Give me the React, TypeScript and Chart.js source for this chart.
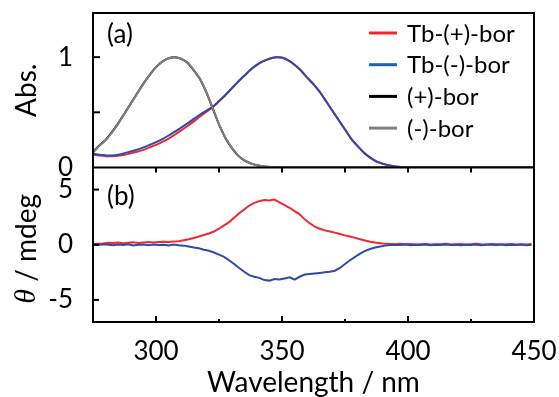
import React, { useEffect, useRef } from "react";
import { Chart, registerables } from "chart.js";

Chart.register(...registerables);

const FONT = "Lato, 'Open Sans', 'DejaVu Sans', sans-serif";

// ---- Data ----
const absStart = 275;
const absStep = 2.5;
const absTbPlus = [
  0.115, 0.108, 0.103, 0.102, 0.106, 0.115, 0.128, 0.142, 0.160, 0.182,
  0.205, 0.232, 0.262, 0.298, 0.336, 0.376, 0.418, 0.462, 0.505, 0.545,
  0.600, 0.655, 0.715, 0.775, 0.830, 0.885, 0.930, 0.962, 0.985, 0.998,
  0.995, 0.970, 0.930, 0.880, 0.815, 0.755, 0.685, 0.600, 0.515, 0.430,
  0.345, 0.260, 0.195, 0.135, 0.090, 0.055, 0.035, 0.020, 0.010, 0.005,
  0.003, 0.002, 0.001, 0, 0, 0, 0, 0, 0, 0,
  0, 0, 0, 0, 0, 0, 0, 0, 0, 0,
  0,
];
const absTbMinus = [
  0.125, 0.115, 0.110, 0.108, 0.115, 0.130, 0.145, 0.162, 0.182, 0.205,
  0.230, 0.258, 0.290, 0.325, 0.362, 0.400, 0.440, 0.480, 0.515, 0.550,
  0.602, 0.657, 0.716, 0.776, 0.831, 0.885, 0.930, 0.963, 0.986, 0.999,
  0.996, 0.971, 0.931, 0.879, 0.815, 0.754, 0.684, 0.600, 0.514, 0.429,
  0.344, 0.260, 0.194, 0.134, 0.089, 0.054, 0.034, 0.018, 0.008, 0.004,
  0.002, 0.001, 0, 0, 0, 0, 0, 0, 0, 0,
  0, 0, 0, 0, 0, 0, 0, 0, 0, 0,
  0,
];
const absBorPlus = [
  0.140, 0.200, 0.250, 0.320, 0.400, 0.490, 0.580, 0.670, 0.760, 0.840,
  0.910, 0.960, 0.990, 1.000, 0.985, 0.950, 0.880, 0.800, 0.680, 0.535,
  0.390, 0.270, 0.180, 0.110, 0.065, 0.038, 0.020, 0.010, 0.005, 0.002,
  0.001, 0, 0, 0, 0, 0, 0, 0, 0, 0,
  0, 0, 0, 0, 0, 0, 0, 0, 0, 0,
  0, 0, 0, 0, 0, 0, 0, 0, 0, 0,
  0, 0, 0, 0, 0, 0, 0, 0, 0, 0,
  0,
];
const absBorMinus = [
  0.135, 0.195, 0.247, 0.317, 0.397, 0.487, 0.578, 0.668, 0.758, 0.839,
  0.909, 0.959, 0.990, 1.000, 0.986, 0.951, 0.882, 0.802, 0.683, 0.538,
  0.393, 0.273, 0.182, 0.112, 0.066, 0.039, 0.021, 0.011, 0.006, 0.003,
  0.001, 0, 0, 0, 0, 0, 0, 0, 0, 0,
  0, 0, 0, 0, 0, 0, 0, 0, 0, 0,
  0, 0, 0, 0, 0, 0, 0, 0, 0, 0,
  0, 0, 0, 0, 0, 0, 0, 0, 0, 0,
  0,
];

const cdStart = 275;
const cdStep = 2;
const cdTbPlus = [
  0.05, 0.10, 0.12, 0.18, 0.15, 0.20, 0.14, 0.18, 0.22, 0.17,
  0.20, 0.24, 0.21, 0.25, 0.28, 0.26, 0.30, 0.32, 0.40, 0.50,
  0.62, 0.75, 0.88, 1.02, 1.20, 1.45, 1.75, 2.05, 2.45, 2.85,
  3.20, 3.55, 3.80, 3.95, 4.05, 4.02, 4.10, 3.85, 3.60, 3.35,
  3.05, 2.75, 2.30, 1.95, 1.65, 1.45, 1.30, 1.20, 1.10, 0.98,
  0.85, 0.75, 0.62, 0.50, 0.38, 0.28, 0.20, 0.14, 0.08, 0.06,
  0.05, 0.08, 0.04, 0.06, 0.03, 0.05, 0.07, 0.02, 0.05, 0.04,
  0.08, 0.03, 0.05, 0.06, 0.02, 0.05, 0.08, 0.04, 0.03, 0.06,
  0.05, 0.02, 0.04, 0.07, 0.03, 0.05, 0.02, 0.08,
];
const cdTbMinus = [
  0.02, -0.03, 0.05, 0.00, -0.05, 0.03, -0.02, 0.04, -0.06, 0.00,
  0.03, -0.04, 0.02, -0.03, 0.01, -0.06, 0.02, -0.05, -0.08, -0.15,
  -0.25, -0.32, -0.45, -0.55, -0.70, -0.90, -1.10, -1.40, -1.75, -2.10,
  -2.45, -2.75, -2.90, -3.00, -3.20, -3.25, -3.10, -3.15, -3.05, -2.95,
  -3.15, -2.90, -2.70, -2.65, -2.60, -2.55, -2.50, -2.45, -2.35, -2.10,
  -1.75, -1.40, -1.10, -0.80, -0.55, -0.38, -0.25, -0.15, -0.08, -0.02,
  0.00, -0.03, 0.02, -0.05, 0.01, -0.02, 0.03, -0.04, 0.00, -0.02,
  0.02, -0.03, 0.00, -0.05, 0.01, -0.02, 0.03, -0.04, 0.00, 0.01,
  -0.03, 0.02, -0.04, 0.00, -0.02, 0.03, -0.05, 0.01,
];

const seriesLabels = ["Tb-(+)-bor", "Tb-(-)-bor", "(+)-bor", "(-)-bor"];
const seriesColors = ["#ee2a2f", "#2f4aae", "#000000", "#808080"];
const legendColors = ["#ee2a2f", "#1b63b8", "#000000", "#808080"];
const xTickLabels = [300, 350, 400, 450];
const absTickLabels = [0, 1];
const cdTickLabels = [-5, 0, 5];
const panelLabels = ["(a)", "(b)"];
const xTitle = "Wavelength / nm";

const toPoints = (vals: number[], start: number, step: number) =>
  vals.map((v, i) => ({ x: start + i * step, y: v }));

const decorPlugin = {
  id: "decor",
  afterDatasetsDraw(chart: any) {
    const { ctx, chartArea, scales } = chart;
    const xs = scales.x;
    const yT = scales.yTop;
    const yB = scales.yBot;
    ctx.save();
    ctx.strokeStyle = "#000";
    ctx.lineWidth = 2;
    ctx.strokeRect(chartArea.left, chartArea.top, chartArea.width, chartArea.height);
    ctx.beginPath();
    ctx.moveTo(chartArea.left, yT.bottom);
    ctx.lineTo(chartArea.right, yT.bottom);
    ctx.stroke();

    const seg = (x1: number, y1: number, x2: number, y2: number) => {
      ctx.beginPath();
      ctx.moveTo(x1, y1);
      ctx.lineTo(x2, y2);
      ctx.stroke();
    };
    for (const t of xs.ticks) {
      const v = t.value;
      if (v <= xs.min || v >= xs.max) continue;
      const px = xs.getPixelForValue(v);
      const major = v % 50 === 0;
      seg(px, yB.bottom, px, yB.bottom - (major ? 6 : 3));
      seg(px, yT.bottom, px, yT.bottom + 5);
    }
    for (const t of yT.ticks) {
      const v = t.value;
      if (v <= yT.min || v >= yT.max || Math.abs(v * 2 - Math.round(v * 2)) > 1e-6) continue;
      const py = yT.getPixelForValue(v);
      seg(chartArea.left, py, chartArea.left + 7, py);
    }
    for (const t of yB.ticks) {
      const v = t.value;
      if (!cdTickLabels.includes(v)) continue;
      const py = yB.getPixelForValue(v);
      seg(chartArea.left, py, chartArea.left + 6, py);
    }
    ctx.restore();
  },
  afterDraw(chart: any) {
    const { ctx, chartArea, scales } = chart;
    const yT = scales.yTop;
    const yB = scales.yBot;
    ctx.save();
    ctx.fillStyle = "#000";
    // panel labels
    ctx.font = `26px ${FONT}`;
    ctx.textAlign = "left";
    ctx.textBaseline = "middle";
    ctx.fillText(panelLabels[0], chartArea.left + 14, yT.top + 22);
    ctx.fillText(panelLabels[1], chartArea.left + 14, yB.top + 29);

    // legend
    const lx = chartArea.right - 165;
    let ly = chartArea.top + 20;
    for (let i = 0; i < seriesLabels.length; i++) {
      ctx.strokeStyle = legendColors[i];
      ctx.lineWidth = 3;
      ctx.beginPath();
      ctx.moveTo(lx, ly);
      ctx.lineTo(lx + 28, ly);
      ctx.stroke();
      ctx.fillStyle = "#000";
      ctx.font = `24px ${FONT}`;
      ctx.fillText(seriesLabels[i], lx + 38, ly + 1);
      ly += 31.7;
    }

    // y titles (rotated)
    const drawRot = (parts: { t: string; f: string }[], cx: number, cy: number) => {
      ctx.save();
      ctx.translate(cx, cy);
      ctx.rotate(-Math.PI / 2);
      ctx.textAlign = "left";
      ctx.textBaseline = "middle";
      let total = 0;
      const ws = parts.map((p) => {
        ctx.font = p.f;
        const w = ctx.measureText(p.t).width;
        total += w;
        return w;
      });
      let x = -total / 2;
      parts.forEach((p, i) => {
        ctx.font = p.f;
        ctx.fillText(p.t, x, 0);
        x += ws[i];
      });
      ctx.restore();
    };
    drawRot([{ t: "Abs.", f: `28px ${FONT}` }], 27, (yT.top + yT.bottom) / 2);
    drawRot(
      [
        { t: "θ", f: `italic 30px 'Liberation Serif', 'DejaVu Serif', serif` },
        { t: " / mdeg", f: `28px ${FONT}` },
      ],
      27,
      (yB.top + yB.bottom) / 2 + 4
    );
    ctx.restore();
  },
};

export default function App() {
  const ref = useRef<HTMLCanvasElement | null>(null);
  useEffect(() => {
    if (!ref.current) return;
    const lineDs = (label: string, color: string, data: any[], axis: string, order: number, tension: number) => ({
      label,
      data,
      borderColor: color,
      backgroundColor: color,
      borderWidth: 2,
      pointRadius: 0,
      fill: false,
      tension,
      yAxisID: axis,
      order,
    });
    const chart = new Chart(ref.current, {
      type: "line",
      data: {
        datasets: [
          lineDs(seriesLabels[0], seriesColors[0], toPoints(absTbPlus, absStart, absStep), "yTop", 4, 0.3),
          lineDs(seriesLabels[1], seriesColors[1], toPoints(absTbMinus, absStart, absStep), "yTop", 3, 0.3),
          lineDs(seriesLabels[2], seriesColors[2], toPoints(absBorPlus, absStart, absStep), "yTop", 2, 0.3),
          lineDs(seriesLabels[3], seriesColors[3], toPoints(absBorMinus, absStart, absStep), "yTop", 1, 0.3),
          lineDs(seriesLabels[0], seriesColors[0], toPoints(cdTbPlus, cdStart, cdStep), "yBot", 6, 0),
          lineDs(seriesLabels[1], seriesColors[1], toPoints(cdTbMinus, cdStart, cdStep), "yBot", 5, 0),
        ],
      },
      options: {
        responsive: false,
        animation: false,
        devicePixelRatio: 1,
        layout: { padding: { left: 0, right: 25, top: 13, bottom: 0 } },
        plugins: { legend: { display: false }, tooltip: { enabled: false } },
        scales: {
          x: {
            type: "linear",
            min: 275,
            max: 450,
            grid: { display: false, drawTicks: false },
            border: { display: false },
            ticks: {
              stepSize: 25,
              autoSkip: false,
              maxRotation: 0,
              padding: 14,
              color: "#000",
              font: { size: 26, family: FONT },
              callback: (v: any) => (xTickLabels.includes(Number(v)) ? String(v) : ""),
            },
            title: {
              display: true,
              text: xTitle,
              color: "#000",
              font: { size: 28, family: FONT },
              padding: { top: 0, bottom: -3 },
            },
            afterFit: (s: any) => {
              s.height = 75;
              s.paddingLeft = 0;
              s.paddingRight = 0;
            },
          },
          yBot: {
            type: "linear",
            position: "left",
            stack: "panels",
            stackWeight: 1,
            min: -7,
            max: 7,
            grid: { display: false, drawTicks: false },
            border: { display: false },
            ticks: {
              stepSize: 5,
              autoSkip: false,
              includeBounds: false,
              padding: 20,
              color: "#000",
              font: { size: 26, family: FONT },
              callback: (v: any) => (cdTickLabels.includes(Number(v)) ? String(v) : ""),
            },
            afterFit: (s: any) => {
              s.width = 93;
              s.paddingTop = 0;
              s.paddingBottom = 0;
            },
          },
          yTop: {
            type: "linear",
            position: "left",
            stack: "panels",
            stackWeight: 1,
            min: 0,
            max: 1.4,
            grid: { display: false, drawTicks: false },
            border: { display: false },
            ticks: {
              stepSize: 0.5,
              autoSkip: false,
              includeBounds: false,
              padding: 20,
              color: "#000",
              font: { size: 26, family: FONT },
              callback: (v: any) => (absTickLabels.includes(Number(v)) ? String(v) : ""),
            },
            afterFit: (s: any) => {
              s.width = 93;
              s.paddingTop = 0;
              s.paddingBottom = 0;
            },
          },
        },
      } as any,
      plugins: [decorPlugin as any],
    });
    return () => chart.destroy();
  }, []);
  return (
    <div style={{ position: "absolute", left: 0, top: 0, width: 559, height: 397, background: "#fff" }}>
      <canvas ref={ref} width={559} height={397} />
    </div>
  );
}
